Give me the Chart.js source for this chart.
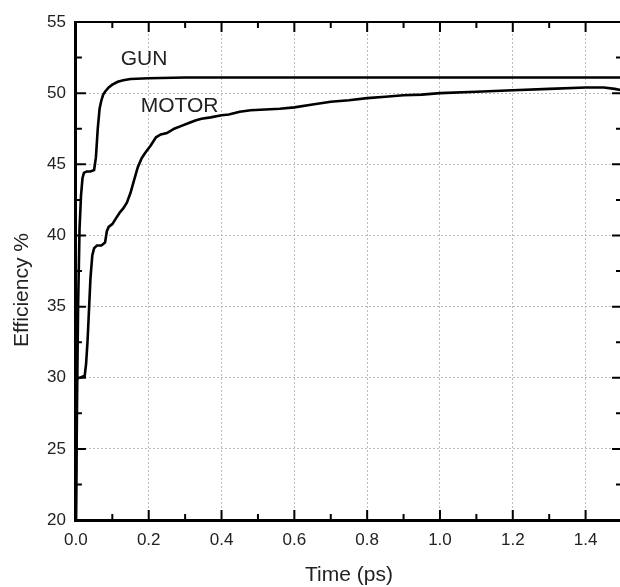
<!DOCTYPE html>
<html>
<head>
<meta charset="utf-8">
<script src="https://cdn.jsdelivr.net/npm/chart.js@4.4.1/dist/chart.umd.min.js"></script>
<style>
  html, body { margin: 0; padding: 0; background: #fff; overflow: hidden; }
  #chart { display: block; }
</style>
</head>
<body>
<canvas id="chart" width="632" height="587"></canvas>
<script>
// GUN efficiency vs time
var gunTime = [0, 0.003, 0.006, 0.010, 0.014, 0.018, 0.022, 0.030, 0.040, 0.050, 0.055, 0.060, 0.065,
    0.070, 0.075, 0.080, 0.090, 0.100, 0.115, 0.130, 0.150, 0.200, 0.300, 0.500, 0.800, 1.000, 1.200, 1.500];
var gunEff = [20, 28, 35, 40.5, 42.8, 44.0, 44.4, 44.5, 44.5, 44.6, 45.5, 47.5, 48.9,
    49.5, 49.9, 50.1, 50.4, 50.6, 50.8, 50.9, 51.0, 51.05, 51.1, 51.1, 51.1, 51.1, 51.1, 51.1];

// MOTOR efficiency vs time
var motorTime = [0, 0.002, 0.005, 0.012, 0.020, 0.024, 0.028, 0.032, 0.036, 0.040, 0.045, 0.050, 0.058,
    0.070, 0.080, 0.085, 0.090, 0.100, 0.110, 0.120, 0.130, 0.140, 0.150, 0.160, 0.170, 0.180, 0.190,
    0.205, 0.220, 0.233, 0.250, 0.270, 0.290, 0.310, 0.330, 0.345, 0.370, 0.400, 0.420, 0.450, 0.480,
    0.520, 0.560, 0.600, 0.650, 0.700, 0.750, 0.800, 0.850, 0.900, 0.950, 1.000, 1.100, 1.200, 1.300,
    1.400, 1.450, 1.480, 1.500];
var motorEff = [20, 29.8, 30.0, 30.0, 30.1, 30.1, 31.0, 32.6, 34.8, 37.0, 38.6, 39.1, 39.3,
    39.3, 39.5, 40.3, 40.6, 40.8, 41.2, 41.6, 41.9, 42.3, 43.0, 43.9, 44.8, 45.4, 45.8,
    46.3, 46.9, 47.1, 47.2, 47.5, 47.7, 47.9, 48.1, 48.2, 48.3, 48.45, 48.5, 48.7, 48.8,
    48.85, 48.9, 49.0, 49.2, 49.4, 49.5, 49.65, 49.75, 49.85, 49.9, 50.0, 50.1, 50.2, 50.3,
    50.4, 50.4, 50.3, 50.2];

var seriesNames = ["GUN", "MOTOR"];
var xTitle = "Time (ps)";
var yTitle = "Efficiency %";

function toPoints(xs, ys) {
    return xs.map(function (x, i) { return { x: x, y: ys[i] }; });
}

function isMultiple(v, step) {
    return Math.abs(v / step - Math.round(v / step)) < 1e-6;
}

var FONT = "'Liberation Sans', Arial, sans-serif";

// inward tick marks on all four sides, plus top/right frame
var frameTicks = {
    id: 'frameTicks',
    afterDraw: function (chart) {
        var ctx = chart.ctx, a = chart.chartArea;
        var xs = chart.scales.x, ys = chart.scales.y;
        ctx.save();
        ctx.strokeStyle = '#000';
        ctx.lineWidth = 2;
        ctx.beginPath();
        ctx.moveTo(a.left, a.top); ctx.lineTo(a.right, a.top); ctx.lineTo(a.right, a.bottom);
        ctx.stroke();
        xs.ticks.forEach(function (t) {
            var px = xs.getPixelForValue(t.value);
            var len = isMultiple(t.value, 0.2) ? 10 : 6;
            ctx.beginPath();
            ctx.moveTo(px, a.bottom); ctx.lineTo(px, a.bottom - len);
            ctx.moveTo(px, a.top); ctx.lineTo(px, a.top + len);
            ctx.stroke();
        });
        ys.ticks.forEach(function (t) {
            var py = ys.getPixelForValue(t.value);
            var len = isMultiple(t.value, 5) ? 10 : 6;
            ctx.beginPath();
            ctx.moveTo(a.left, py); ctx.lineTo(a.left + len, py);
            ctx.moveTo(a.right, py); ctx.lineTo(a.right - len, py);
            ctx.stroke();
        });

        // curve names and y axis title
        ctx.fillStyle = '#222';
        ctx.font = '21px ' + FONT;
        ctx.textAlign = 'left';
        ctx.textBaseline = 'alphabetic';
        ctx.fillText(seriesNames[0], xs.getPixelForValue(0.123), ys.getPixelForValue(51.98));
        ctx.fillText(seriesNames[1], xs.getPixelForValue(0.178), ys.getPixelForValue(48.67));

        ctx.translate(22, (a.top + a.bottom) / 2 + 19);
        ctx.rotate(-Math.PI / 2);
        ctx.textAlign = 'center';
        ctx.textBaseline = 'middle';
        ctx.fillText(yTitle, 0, 0);
        ctx.restore();
    }
};

var gridColor = function (ctx, step) {
    if (!ctx.tick) return 'rgba(0,0,0,0)';
    return isMultiple(ctx.tick.value, step) ? '#bdbdbd' : 'rgba(0,0,0,0)';
};

new Chart(document.getElementById('chart'), {
    type: 'line',
    data: {
        datasets: [{
            label: seriesNames[0],
            data: toPoints(gunTime, gunEff),
            borderColor: '#000',
            borderWidth: 2.6,
            pointRadius: 0,
            tension: 0
        }, {
            label: seriesNames[1],
            data: toPoints(motorTime, motorEff),
            borderColor: '#000',
            borderWidth: 2.6,
            pointRadius: 0,
            tension: 0
        }]
    },
    options: {
        responsive: false,
        animation: false,
        layout: { padding: { top: 22, left: 37, right: 0, bottom: 0 } },
        plugins: {
            legend: { display: false },
            tooltip: { enabled: false }
        },
        scales: {
            x: {
                type: 'linear',
                min: 0,
                max: 1.5,
                ticks: {
                    stepSize: 0.1,
                    autoSkip: false,
                    maxRotation: 0,
                    padding: 10,
                    color: '#222',
                    font: { family: FONT, size: 17 },
                    callback: function (v) { return isMultiple(v, 0.2) ? v.toFixed(1) : ''; }
                },
                grid: {
                    drawTicks: false,
                    color: function (c) { return gridColor(c, 0.2); },
                    lineWidth: 1
                },
                // border.dash applies to the grid lines
                border: { color: '#000', width: 3, dash: [2, 2] },
                title: {
                    display: true,
                    text: xTitle,
                    color: '#222',
                    font: { family: FONT, size: 21, lineHeight: 1.0 },
                    padding: { top: 4, bottom: 1.5 }
                }
            },
            y: {
                min: 20,
                max: 55,
                ticks: {
                    stepSize: 2.5,
                    autoSkip: false,
                    padding: 10,
                    color: '#222',
                    font: { family: FONT, size: 17 },
                    callback: function (v) { return isMultiple(v, 5) ? String(v) : ''; }
                },
                grid: {
                    drawTicks: false,
                    color: function (c) { return gridColor(c, 5); },
                    lineWidth: 1
                },
                border: { color: '#000', width: 3, dash: [2, 2] }
            }
        }
    },
    plugins: [frameTicks]
});
</script>
</body>
</html>
